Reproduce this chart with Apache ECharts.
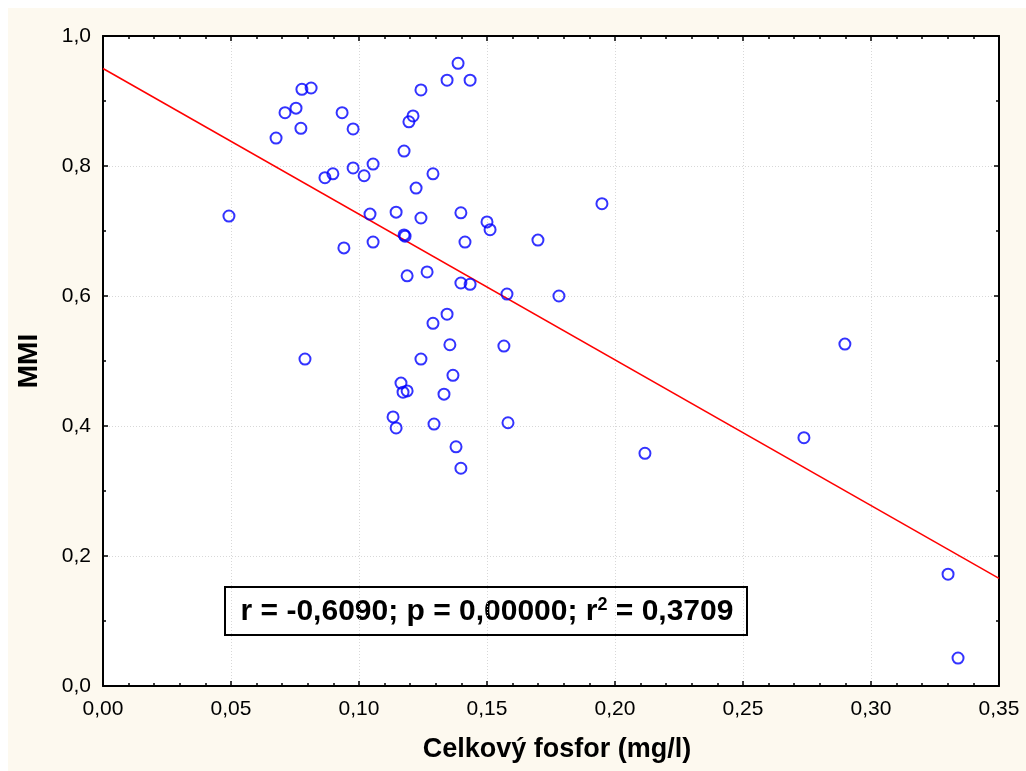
<!DOCTYPE html>
<html>
<head>
<meta charset="utf-8">
<script src="https://cdn.jsdelivr.net/npm/echarts@6/dist/echarts.min.js"></script>
<style>
  html, body { margin: 0; padding: 0; background: #fff; }
  #chart { width: 1026px; height: 771px; }
</style>
</head>
<body>
<div id="chart"></div>
<script>
// Celkový fosfor (mg/l) vs MMI
const fosfor = [
  0.0492, 0.0676, 0.0711, 0.0754, 0.0777, 0.0813, 0.0773, 0.0789, 0.0867, 0.0898,
  0.0934, 0.0941, 0.0977, 0.0977, 0.1020, 0.1055, 0.1043, 0.1055, 0.1145, 0.1176,
  0.1176, 0.1180, 0.1195, 0.1211, 0.1242, 0.1344, 0.1387, 0.1434, 0.1289, 0.1223,
  0.1242, 0.1398, 0.1500, 0.1512, 0.1414, 0.1699, 0.1949, 0.1188, 0.1266, 0.1398,
  0.1434, 0.1578, 0.1781, 0.1344, 0.1289, 0.1355, 0.1566, 0.1242, 0.1367, 0.1164,
  0.1172, 0.1188, 0.1332, 0.1133, 0.1145, 0.1293, 0.1582, 0.1379, 0.1398, 0.2117,
  0.2738, 0.2898, 0.3301, 0.3340
];
const mmi = [
  0.723, 0.843, 0.882, 0.889, 0.918, 0.920, 0.858, 0.503, 0.782, 0.788,
  0.882, 0.674, 0.857, 0.797, 0.785, 0.803, 0.726, 0.683, 0.729, 0.823,
  0.694, 0.692, 0.868, 0.877, 0.917, 0.932, 0.958, 0.932, 0.788, 0.766,
  0.720, 0.728, 0.714, 0.702, 0.683, 0.686, 0.742, 0.631, 0.637, 0.620,
  0.618, 0.603, 0.600, 0.572, 0.558, 0.525, 0.523, 0.503, 0.478, 0.466,
  0.452, 0.454, 0.449, 0.414, 0.397, 0.403, 0.405, 0.368, 0.335, 0.358,
  0.382, 0.526, 0.172, 0.043
];
// regresní přímka: MMI = a + b * fosfor
const intercept = 0.950;
const slope = -2.241;
const xRange = [0, 0.35];

const points = fosfor.map((x, i) => [x, mmi[i]]);
const fitLine = xRange.map((x) => [x, intercept + slope * x]);

const font = 'Arial, "Liberation Sans", sans-serif';
const fmtX = (v) => v.toFixed(2).replace('.', ',');
const fmtY = (v) => v.toFixed(1).replace('.', ',');

const chart = echarts.init(document.getElementById('chart'), null, { renderer: 'canvas' });

const axisLine = { show: true, onZero: false, lineStyle: { color: '#000', width: 2 } };
const axisTick = { show: true, inside: true, length: 5, lineStyle: { color: '#000', width: 1.5 } };
const minorTick = { show: true, length: 3, lineStyle: { color: '#000', width: 1.5 } };

const option = {
  animation: false,
  backgroundColor: '#fff',
  graphic: [
    {
      type: 'rect',
      z: -10,
      shape: { x: 8, y: 8, width: 1018, height: 763 },
      style: { fill: '#fdf9ef' }
    },
    {
      type: 'rect',
      z: -9,
      shape: { x: 103, y: 36, width: 896, height: 650 },
      style: { fill: '#fff' }
    },
    {
      type: 'group',
      left: 224,
      top: 586,
      z: 100,
      children: [
        {
          type: 'rect',
          shape: { x: 0, y: 0, width: 522, height: 48 },
          style: { fill: '#fff', stroke: '#000', lineWidth: 2 }
        },
        {
          type: 'text',
          x: 262,
          y: 25,
          style: {
            text: '{a|r = -0,6090; p = 0,00000; r}{s|2}{a| = 0,3709}',
            align: 'center',
            verticalAlign: 'middle',
            rich: {
              a: { fontFamily: font, fontWeight: 'bold', fontSize: 30, fill: '#000' },
              s: { fontFamily: font, fontWeight: 'bold', fontSize: 18, fill: '#000', verticalAlign: 'top', padding: [0, 0, 14, 0] }
            }
          }
        }
      ]
    }
  ],
  grid: { left: 103, top: 36, right: 27, bottom: 85, containLabel: false },
  xAxis: [
    {
      type: 'value',
      min: 0,
      max: 0.35,
      interval: 0.05,
      position: 'bottom',
      name: 'Celkový fosfor (mg/l)',
      nameLocation: 'middle',
      nameGap: 50,
      nameTextStyle: { fontFamily: font, fontWeight: 'bold', fontSize: 27, color: '#000', padding: [0, 0, 0, 12] },
      axisLine: axisLine,
      axisTick: axisTick,
      minorTick: Object.assign({ splitNumber: 5 }, minorTick),
      axisLabel: { fontFamily: font, fontSize: 21, color: '#000', margin: 13, formatter: fmtX },
      splitLine: { show: true, lineStyle: { color: '#d8d8d8', type: [1, 2], width: 1 } }
    },
    {
      type: 'value',
      min: 0,
      max: 0.35,
      interval: 0.05,
      position: 'top',
      axisLine: axisLine,
      axisTick: axisTick,
      minorTick: Object.assign({ splitNumber: 5 }, minorTick),
      axisLabel: { show: false },
      splitLine: { show: false }
    }
  ],
  yAxis: [
    {
      type: 'value',
      min: 0,
      max: 1,
      interval: 0.2,
      position: 'left',
      name: 'MMI',
      nameLocation: 'middle',
      nameGap: 60,
      nameTextStyle: { fontFamily: font, fontWeight: 'bold', fontSize: 28, color: '#000' },
      axisLine: axisLine,
      axisTick: axisTick,
      minorTick: Object.assign({ splitNumber: 2 }, minorTick),
      axisLabel: { fontFamily: font, fontSize: 21, color: '#000', margin: 12, formatter: fmtY },
      splitLine: { show: true, lineStyle: { color: '#d8d8d8', type: [1, 2], width: 1 } }
    },
    {
      type: 'value',
      min: 0,
      max: 1,
      interval: 0.2,
      position: 'right',
      axisLine: axisLine,
      axisTick: axisTick,
      minorTick: Object.assign({ splitNumber: 2 }, minorTick),
      axisLabel: { show: false },
      splitLine: { show: false }
    }
  ],
  series: [
    {
      name: 'fit',
      type: 'line',
      data: fitLine,
      symbol: 'none',
      lineStyle: { color: '#ff0000', width: 1.5 },
      z: 3
    },
    {
      name: 'MMI',
      type: 'scatter',
      data: points,
      symbol: 'circle',
      symbolSize: 11,
      itemStyle: { color: 'rgba(0,0,0,0)', borderColor: '#0000ff', borderWidth: 2 },
      z: 4
    }
  ]
};

chart.setOption(option);
</script>
</body>
</html>
